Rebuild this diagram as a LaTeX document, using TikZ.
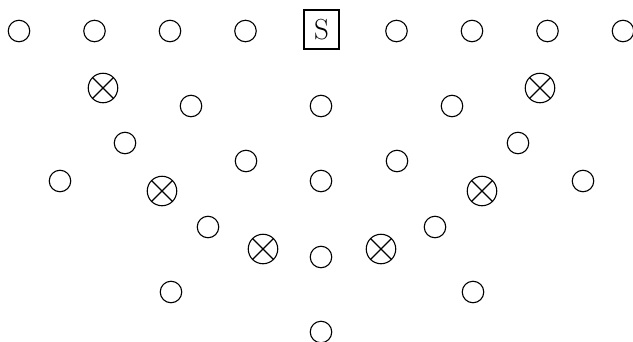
\documentclass[tikz,border=0pt]{standalone}
\begin{document}
\begin{tikzpicture}[x=1pt,y=-1pt,
  dotc/.style={circle,draw,line width=1.1pt,minimum size=21.5pt,inner sep=0pt},
  xc/.style={circle,draw,line width=1.1pt,minimum size=29.5pt,inner sep=0pt,
    path picture={\draw[line width=1.1pt] (path picture bounding box.north west) -- (path picture bounding box.south east)
      (path picture bounding box.north east) -- (path picture bounding box.south west);}},
  sbox/.style={draw,line width=1.1pt,font=\fontsize{29}{34}\selectfont,inner sep=0pt,minimum width=35pt,minimum height=39pt}]
\useasboundingbox (0,0) rectangle (633,341);
% top row
\node[dotc] (t1) at (19,31) {};
\node[dotc] (t2) at (94.5,31) {};
\node[dotc] (t3) at (170,31) {};
\node[dotc] (t4) at (245.5,31) {};
\node[sbox] (s) at (321.5,29.5) {S};
\node[dotc] (t6) at (396.5,31) {};
\node[dotc] (t7) at (472,31) {};
\node[dotc] (t8) at (547.5,31) {};
\node[dotc] (t9) at (623,31) {};
% row 2
\node[xc] (x1) at (103,88) {};
\node[xc] (x2) at (540,88) {};
\node[dotc] (a1) at (191,106) {};
\node[dotc] (a2) at (321,106) {};
\node[dotc] (a3) at (452,106) {};
% row 3
\node[dotc] (b1) at (125,143) {};
\node[dotc] (b2) at (518,143) {};
\node[dotc] (c1) at (246,161) {};
\node[dotc] (c2) at (397,161) {};
\node[dotc] (d1) at (60,181) {};
\node[dotc] (d2) at (321,181) {};
\node[dotc] (d3) at (583,181) {};
\node[xc] (x3) at (162,191) {};
\node[xc] (x4) at (482,191) {};
% row 4
\node[dotc] (e1) at (208,227) {};
\node[dotc] (e2) at (435,227) {};
\node[xc] (x5) at (263,249) {};
\node[xc] (x6) at (381,249) {};
\node[dotc] (f1) at (321,257) {};
\node[dotc] (g1) at (171,292) {};
\node[dotc] (g2) at (473,292) {};
\node[dotc] (h1) at (321,332) {};
\end{tikzpicture}
\end{document}
